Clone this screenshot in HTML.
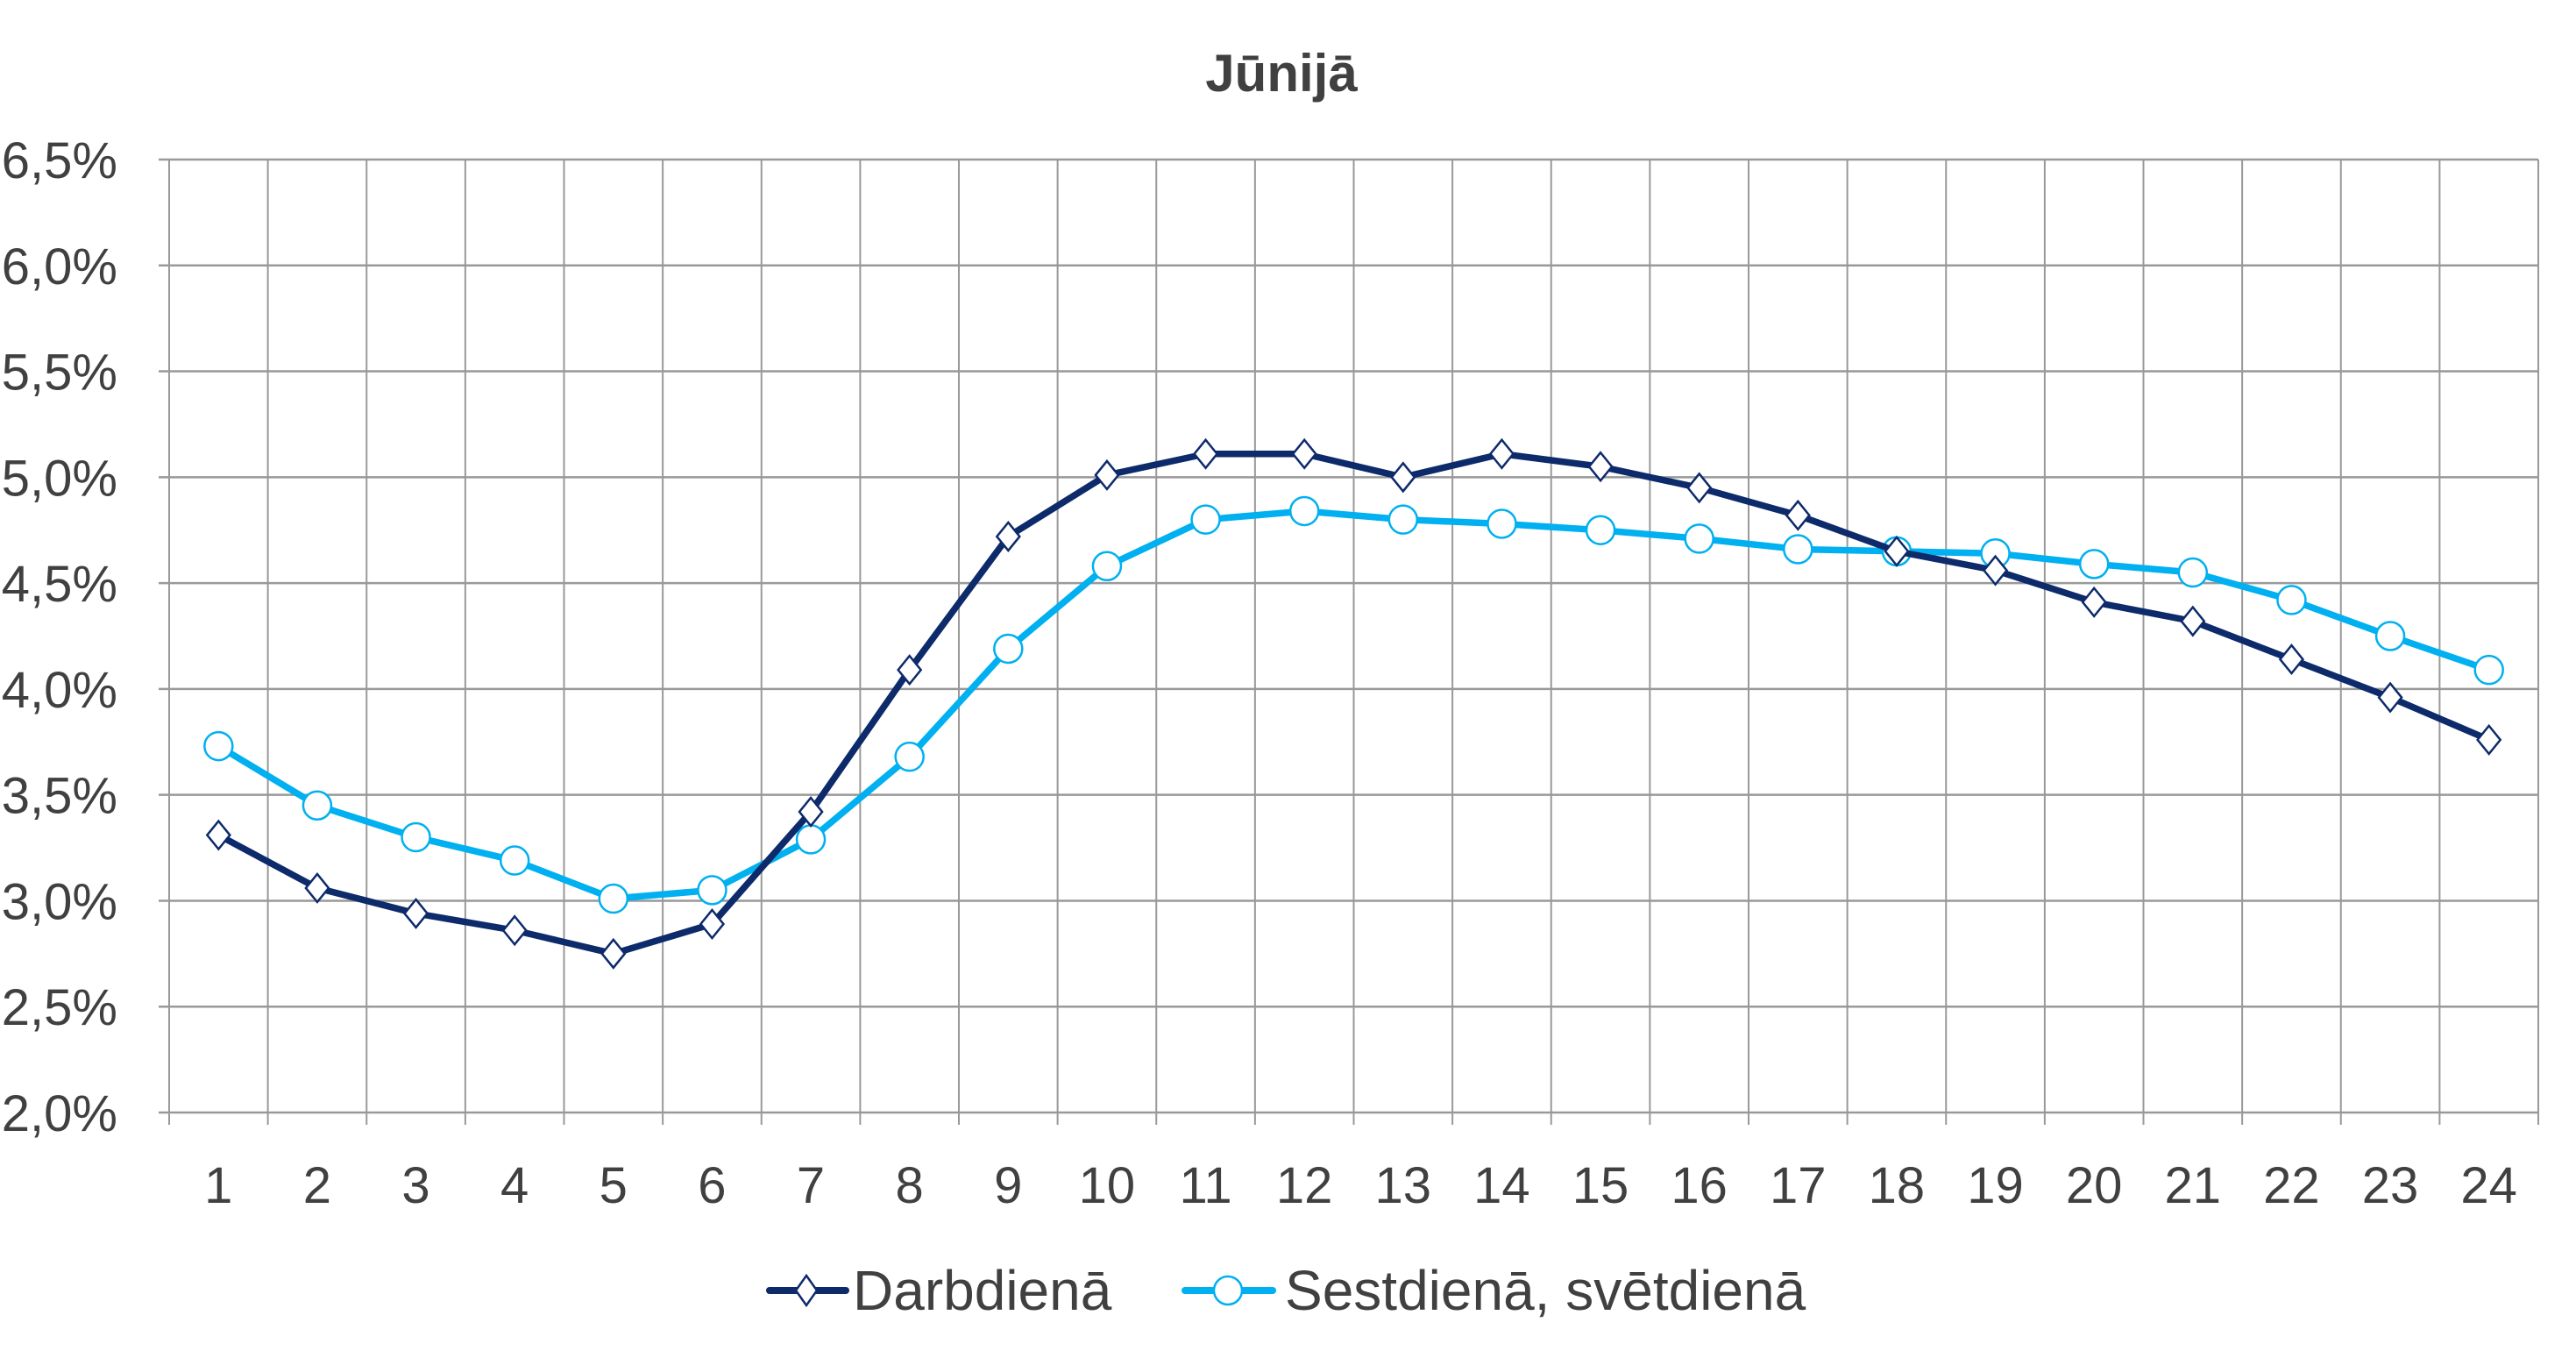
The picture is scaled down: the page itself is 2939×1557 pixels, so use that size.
<!DOCTYPE html>
<html><head><meta charset="utf-8"><style>
html,body{margin:0;padding:0;background:#fff;}
svg{display:block;font-family:"Liberation Sans",sans-serif;}
</style></head><body>
<svg id="chart" width="2939" height="1557" viewBox="0 0 2939 1557">
<text x="1462" y="104" text-anchor="middle" font-size="60" font-weight="bold" fill="#404040">Jūnijā</text>
<g id="grid"></g>
<g id="yticks"></g>
<g id="xticks"></g>
<g id="series"></g>
<g>
 <g>
  <line x1="878" y1="1472" x2="965" y2="1472" stroke="#0d2a6b" stroke-width="8" stroke-linecap="round"/>
  <polygon points="920,1455 932,1472 920,1489 908,1472" fill="#fff" stroke="#0d2a6b" stroke-width="2.5"/>
  <text x="973" y="1494" font-size="64" fill="#404040">Darbdienā</text>
 </g>
 <g>
  <line x1="1352" y1="1472" x2="1452" y2="1472" stroke="#00b0f0" stroke-width="8" stroke-linecap="round"/>
  <circle cx="1401" cy="1472" r="16" fill="#fff" stroke="#00b0f0" stroke-width="2.5"/>
  <text x="1466" y="1494" font-size="64" fill="#404040">Sestdienā, svētdienā</text>
 </g>
</g>
</svg>
<script>
const categories = ["1","2","3","4","5","6","7","8","9","10","11","12","13","14","15","16","17","18","19","20","21","22","23","24"];
const weekday = [3.31,3.06,2.94,2.86,2.75,2.89,3.42,4.09,4.72,5.01,5.11,5.11,5.00,5.11,5.05,4.95,4.82,4.65,4.56,4.41,4.32,4.14,3.96,3.76];
const weekend = [3.73,3.45,3.30,3.19,3.01,3.05,3.29,3.68,4.19,4.58,4.80,4.84,4.80,4.78,4.75,4.71,4.66,4.65,4.64,4.59,4.55,4.42,4.25,4.09];
const yTicks = [2.0,2.5,3.0,3.5,4.0,4.5,5.0,5.5,6.0,6.5];
const yTickLabels = ["2,0%","2,5%","3,0%","3,5%","4,0%","4,5%","5,0%","5,5%","6,0%","6,5%"];

const NS="http://www.w3.org/2000/svg";
const L=193, R=2896, T=182, B=1269, yMin=2.0, yMax=6.5;
const bw=(R-L)/categories.length;
const xPos=i=>L+bw*(i+0.5);
const yPos=v=>B-(v-yMin)/(yMax-yMin)*(B-T);
function mk(tag,attrs,parent){const e=document.createElementNS(NS,tag);for(const k in attrs)e.setAttribute(k,attrs[k]);parent.appendChild(e);return e;}
const grid=document.getElementById('grid'), yt=document.getElementById('yticks'), xt=document.getElementById('xticks'), ser=document.getElementById('series');
yTicks.forEach((v,i)=>{
  const ln=mk('line',{x1:L-12,x2:R,y1:yPos(v),y2:yPos(v),stroke:'#999','stroke-width':2.5},grid);
  
  
  const t=mk('text',{x:134,y:yPos(v)+21,'text-anchor':'end','font-size':58,fill:'#404040'},yt);
  t.textContent=yTickLabels[i];
  
  
});
for(let i=0;i<=categories.length;i++){
  const x=L+bw*i;
  const ln=mk('line',{x1:x,x2:x,y1:T,y2:B+14,stroke:'#999','stroke-width':2},grid);
  
  
}
categories.forEach((c,i)=>{
  const t=mk('text',{x:xPos(i),y:1372,'text-anchor':'middle','font-size':58,fill:'#404040'},xt);
  t.textContent=c;
  
  
});
function drawSeries(vals,color,marker,name){
  const g=mk('g',{},ser);
  
  
  const pl=mk('polyline',{points:vals.map((v,i)=>xPos(i)+','+yPos(v)).join(' '),fill:'none',stroke:color,'stroke-width':7.5,'stroke-linejoin':'round'},g);
  
  
  vals.forEach((v,i)=>{
    const x=xPos(i),y=yPos(v);let m;
    if(marker==='diamond') m=mk('polygon',{points:`${x},${y-16} ${x+13},${y} ${x},${y+16} ${x-13},${y}`,fill:'#fff',stroke:color,'stroke-width':2.5},g);
    else m=mk('circle',{cx:x,cy:y,r:16,fill:'#fff',stroke:color,'stroke-width':2.5},g);
    
    
  });
}
drawSeries(weekend,'#00b0f0','circle','sestdiena-series');
drawSeries(weekday,'#0d2a6b','diamond','darbdiena-series');
</script>
</body></html>
